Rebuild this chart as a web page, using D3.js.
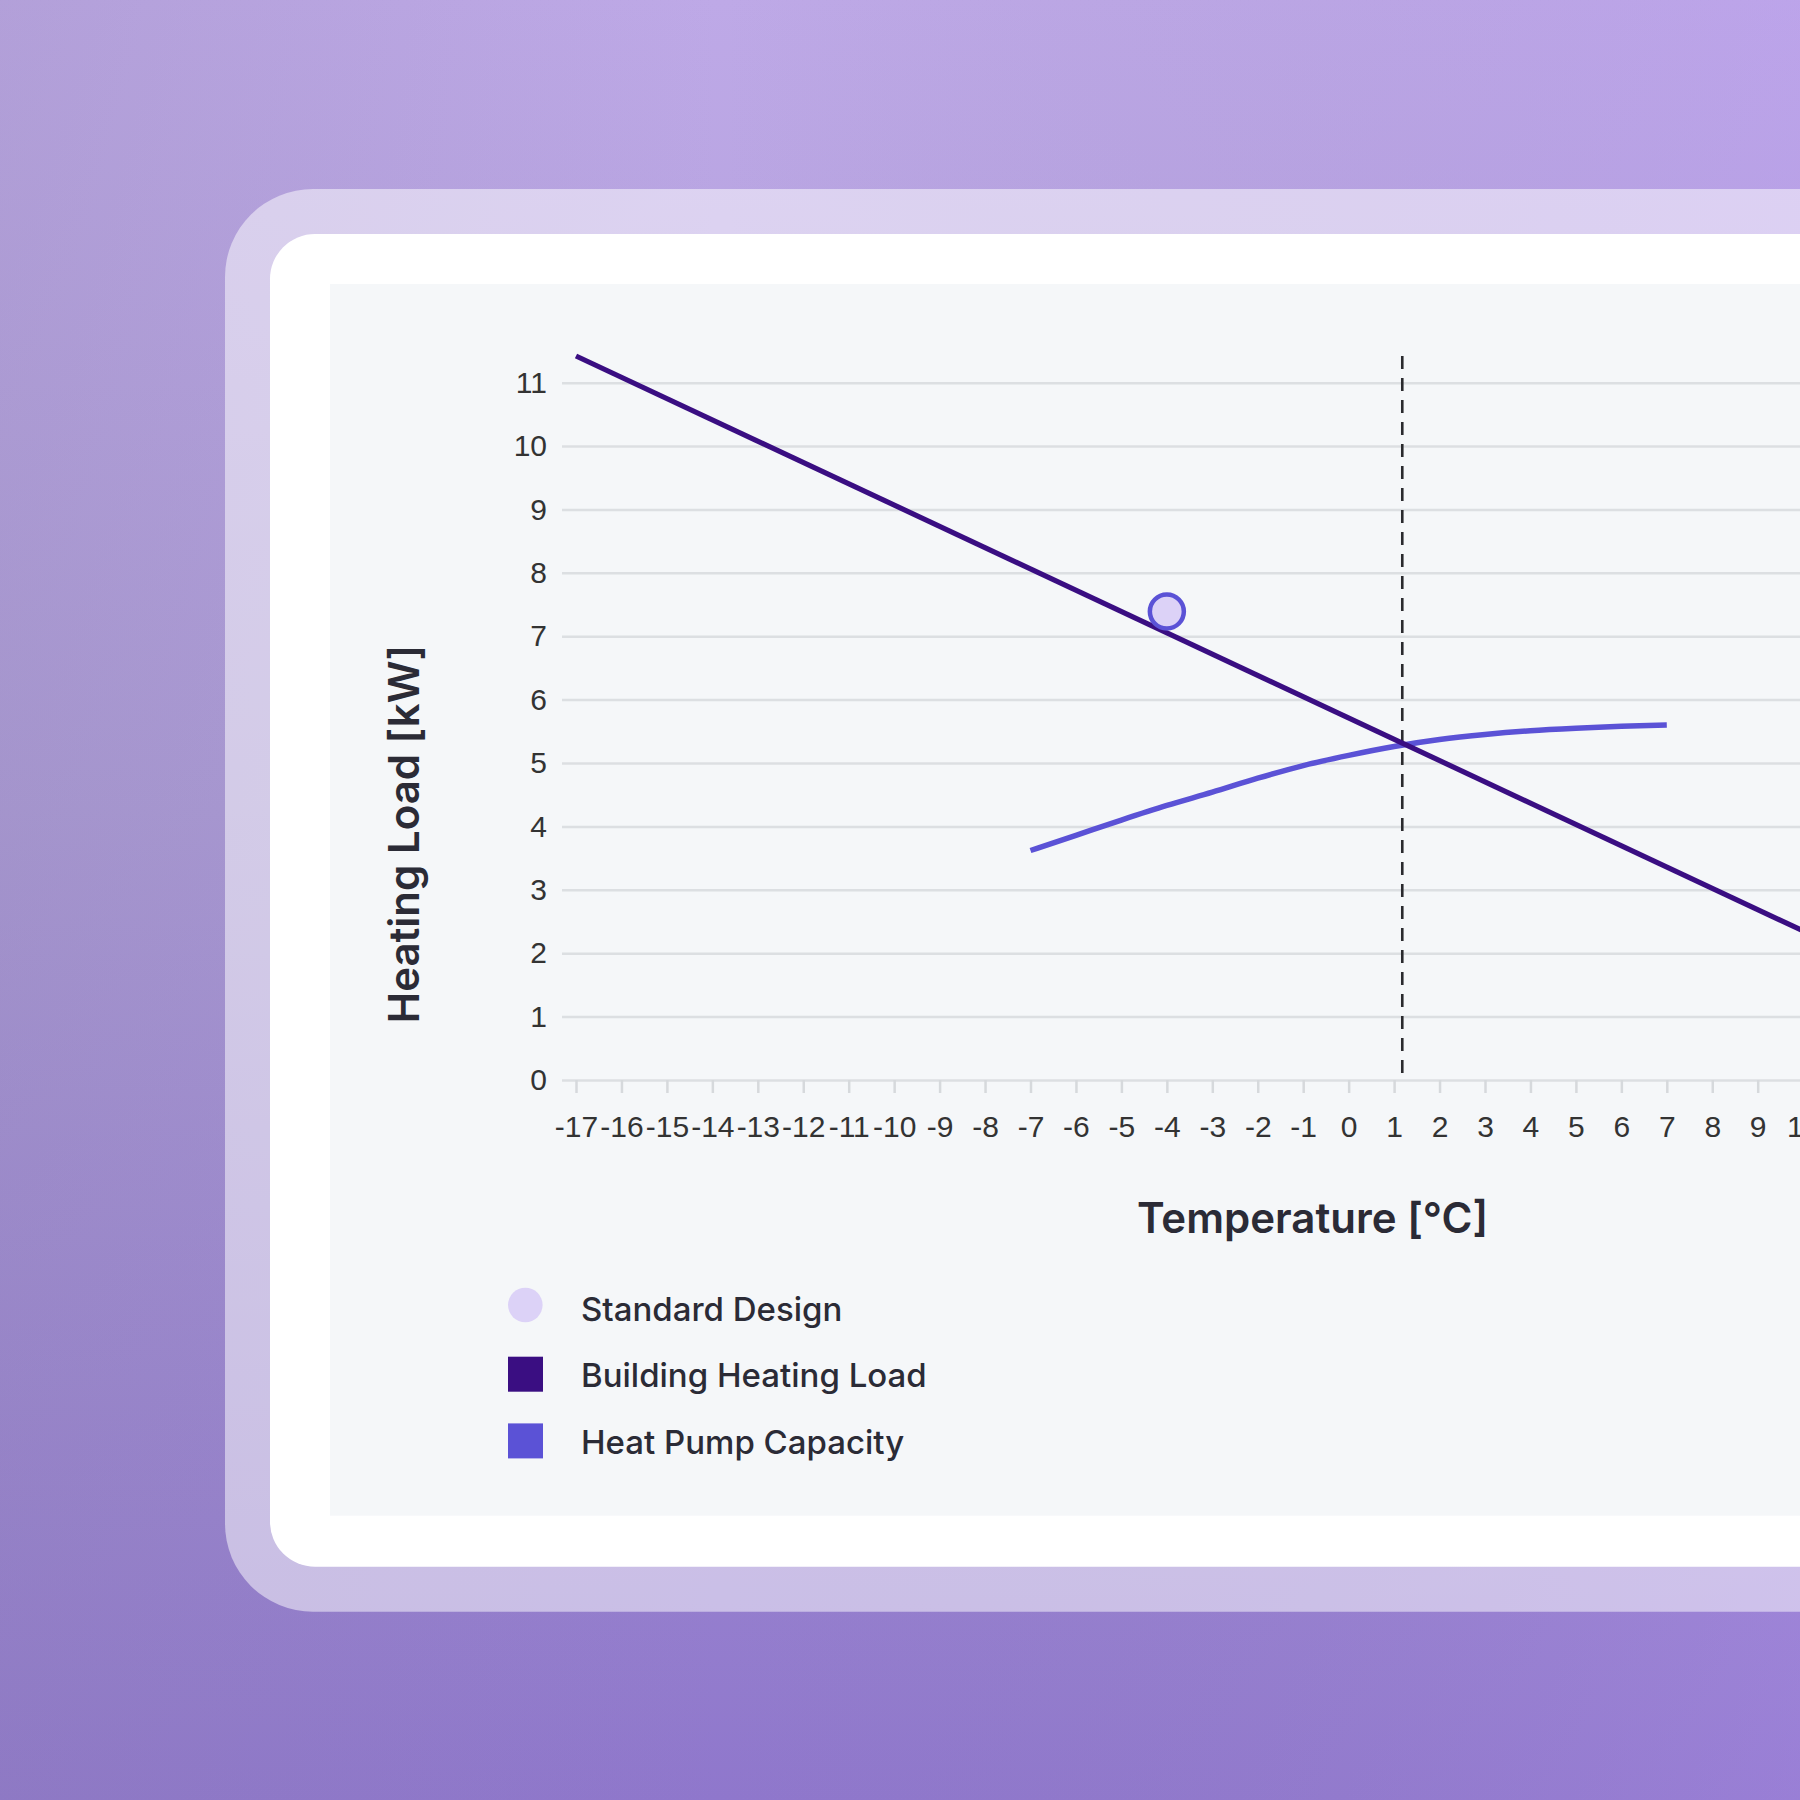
<!DOCTYPE html>
<html>
<head>
<meta charset="utf-8">
<script src="https://cdn.jsdelivr.net/npm/d3@7/dist/d3.min.js"></script>
<style>
  html, body { margin: 0; padding: 0; background: #b5a2df; }
  svg { display: block; }
</style>
</head>
<body>
<svg id="chart" width="1800" height="1800"></svg>
<script>
// values
const loadTemps = [-17, 12];
const loadValues = [11.42, 1.68];

const hpTemps = [-7, -6, -5, -4, -3, -2, -1, 0, 1, 2, 3, 4, 5, 6, 7];
const hpCapacity = [3.62, 3.86, 4.1, 4.33, 4.54, 4.76, 4.96, 5.12, 5.26, 5.37, 5.45, 5.51, 5.55, 5.58, 5.6];

const designTemp = [-4];
const designLoad = [7.39];

const balanceTemp = 1.18;

const xTicks = d3.range(-17, 11);
const yTicks = d3.range(0, 12);

const legendLabels = ['Standard Design', 'Building Heating Load', 'Heat Pump Capacity'];

const colors = {
  load: '#3a0e82',
  pump: '#5b52d6',
  designFill: '#dcd2f7',
  text: '#2b2b36'
};

const svg = d3.select('#chart');
const W = 1800, H = 1800;

// background
const defs = svg.append('defs');
const bg = defs.append('linearGradient').attr('id', 'bg')
  .attr('x1', 0).attr('y1', 0).attr('x2', 0).attr('y2', 1);
bg.append('stop').attr('offset', '0%').attr('stop-color', '#bea9e7');
bg.append('stop').attr('offset', '45%').attr('stop-color', '#ab9ad6');
bg.append('stop').attr('offset', '100%').attr('stop-color', '#8f77cc');
const side = defs.append('linearGradient').attr('id', 'side')
  .attr('x1', 0).attr('y1', 0).attr('x2', 1).attr('y2', 0);
side.append('stop').attr('offset', '0%').attr('stop-color', '#8a80a8').attr('stop-opacity', 0.22);
side.append('stop').attr('offset', '40%').attr('stop-color', '#8a80a8').attr('stop-opacity', 0);
side.append('stop').attr('offset', '100%').attr('stop-color', '#b896f4').attr('stop-opacity', 0.25);

svg.append('rect').attr('width', W).attr('height', H).attr('fill', 'url(#bg)');
svg.append('rect').attr('width', W).attr('height', H).attr('fill', 'url(#side)');

// card frames
svg.append('rect')
  .attr('x', 225).attr('y', 189).attr('width', 1800).attr('height', 1611.7 - 189)
  .attr('rx', 88).attr('fill', 'rgba(255,255,255,0.5)');
svg.append('rect')
  .attr('x', 270).attr('y', 234).attr('width', 1800).attr('height', 1566.7 - 234)
  .attr('rx', 45).attr('fill', '#ffffff');
svg.append('rect')
  .attr('x', 330).attr('y', 284).attr('width', 1600).attr('height', 1515.7 - 284)
  .attr('fill', '#f5f7f9');

// scales
const x = d3.scaleLinear().domain([-17, 10]).range([576, 576 + 27 * 45.45]);
const y = d3.scaleLinear().domain([0, 11.42]).range([1080, 356]);
const gridLeft = 562;

// gridlines
const grid = svg.append('g')
  .attr('transform', `translate(${gridLeft},0)`)
  .call(d3.axisRight(y).tickValues(yTicks).tickSize(W - gridLeft).tickFormat(''));
grid.select('.domain').remove();
grid.selectAll('line').attr('stroke', '#dcdfe2').attr('stroke-width', 2.5);

// y labels
const yAxis = svg.append('g')
  .attr('transform', `translate(${gridLeft},0)`)
  .call(d3.axisLeft(y).tickValues(yTicks).tickSize(0).tickPadding(15));
yAxis.select('.domain').remove();
yAxis.selectAll('text')
  .attr('font-family', '"Liberation Sans", Arial, sans-serif')
  .attr('font-size', 30).attr('fill', '#333333');

// x axis (plain hyphen minus, as in the original)
const xAxis = svg.append('g')
  .attr('transform', `translate(0,${y(0)})`)
  .call(d3.axisBottom(x).tickValues(xTicks).tickSize(13).tickPadding(23).tickFormat(d => String(d)));
xAxis.select('.domain').remove();
xAxis.selectAll('line').attr('stroke', '#d6d9dc').attr('stroke-width', 2.5);
xAxis.selectAll('text')
  .attr('font-family', '"Liberation Sans", Arial, sans-serif')
  .attr('font-size', 30).attr('fill', '#333333');

// balance point marker
svg.append('line')
  .attr('x1', x(balanceTemp)).attr('x2', x(balanceTemp))
  .attr('y1', y(11.42)).attr('y2', y(0))
  .attr('stroke', '#2a2a2e').attr('stroke-width', 2.6)
  .attr('stroke-dasharray', '13,9');

// series
const loadData = loadTemps.map((t, i) => ({ t, v: loadValues[i] }));
const hpData = hpTemps.map((t, i) => ({ t, v: hpCapacity[i] }));

svg.append('path')
  .datum(hpData)
  .attr('fill', 'none')
  .attr('stroke', colors.pump)
  .attr('stroke-width', 5.5)
  .attr('d', d3.line().x(d => x(d.t)).y(d => y(d.v)).curve(d3.curveMonotoneX));

svg.append('path')
  .datum(loadData)
  .attr('fill', 'none')
  .attr('stroke', colors.load)
  .attr('stroke-width', 5.2)
  .attr('d', d3.line().x(d => x(d.t)).y(d => y(d.v)));

svg.selectAll('.design')
  .data(designTemp.map((t, i) => ({ t, v: designLoad[i] })))
  .join('circle')
  .attr('class', 'design')
  .attr('cx', d => x(d.t)).attr('cy', d => y(d.v))
  .attr('r', 17)
  .attr('fill', colors.designFill)
  .attr('stroke', colors.pump).attr('stroke-width', 4.5);

// axis titles
svg.append('text')
  .attr('x', 1312.5).attr('y', 1233)
  .attr('text-anchor', 'middle')
  .attr('font-family', 'Inter, sans-serif').attr('font-weight', 600)
  .attr('font-size', 42).attr('fill', colors.text)
  .text('Temperature [°C]');

svg.append('text')
  .attr('transform', 'translate(419,834) rotate(-90)')
  .attr('text-anchor', 'middle')
  .attr('font-family', 'Inter, sans-serif').attr('font-weight', 600)
  .attr('font-size', 42).attr('fill', colors.text)
  .text('Heating Load [kW]');

// legend
const legend = svg.append('g').attr('transform', 'translate(508,1305)');
const rows = legend.selectAll('g')
  .data(legendLabels)
  .join('g')
  .attr('transform', (d, i) => `translate(0,${i * 66.7})`);

rows.filter((d, i) => i === 0).append('circle')
  .attr('cx', 17.3).attr('cy', 0).attr('r', 17.3)
  .attr('fill', colors.designFill);
rows.filter((d, i) => i > 0).append('rect')
  .attr('x', 0).attr('y', -15).attr('width', 35).attr('height', 35)
  .attr('fill', (d, i) => i === 0 ? colors.load : colors.pump);
rows.append('text')
  .attr('x', 73).attr('y', 15.7)
  .attr('font-family', 'Inter, sans-serif').attr('font-weight', 500)
  .attr('font-size', 33).attr('fill', colors.text)
  .text(d => d);
</script>
</body>
</html>
